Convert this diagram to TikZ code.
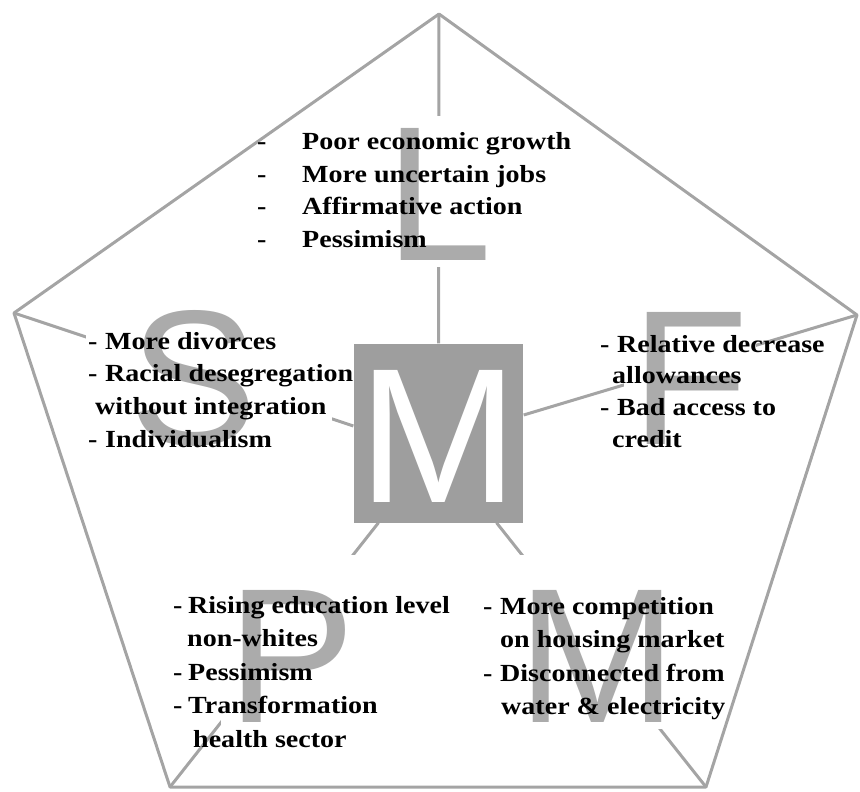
\documentclass[tikz,border=0pt]{standalone}
\usepackage{fontspec}
\newfontfamily\txtfont{Liberation Serif}[FakeStretch=1.14]
\newfontfamily\letfont{Liberation Sans}
\usetikzlibrary{calc}
\definecolor{linegray}{HTML}{A4A4A4}
\definecolor{lettergray}{HTML}{ABABAB}
\definecolor{boxgray}{HTML}{9E9E9E}
\pgfdeclarelayer{bg}
\pgfdeclarelayer{mid}
\pgfsetlayers{bg,mid,main}
\begin{document}
\begin{tikzpicture}[x=1pt,y=-1pt,
  edge/.style={draw=linegray,line width=3pt},
  bigletter/.style={font=\letfont\fontsize{192}{192}\selectfont,text=lettergray,fill=white,inner sep=7pt,text depth=0pt,text height=137pt,anchor=base},
  txt/.style={font=\txtfont\bfseries\fontsize{24.6}{#1}\selectfont,anchor=base west,inner sep=0pt,text=black},
]
\useasboundingbox (0,0) rectangle (860,792);
% pentagon
\coordinate (T) at (439,14);
\coordinate (Lv) at (14,313);
\coordinate (Rv) at (857,315);
\coordinate (BL) at (170,787);
\coordinate (BR) at (706,787);
\draw[edge,line join=round] (T) -- (Rv) -- (BR) -- (BL) -- (Lv) -- cycle;
% central box
\node[fill=boxgray,text=white,font=\letfont\fontsize{192}{192}\selectfont,text height=138pt,text depth=0pt,inner xsep=5pt,inner ysep=20.5pt,anchor=base] (box) at (438.5,502) {M};
% texts
\node[txt=33] (tL) at (257,149) {\begin{tabular}[t]{@{}l@{}}
\makebox[45pt][l]{-}Poor economic growth\\
\makebox[45pt][l]{-}More uncertain jobs\\
\makebox[45pt][l]{-}Affirmative action\\
\makebox[45pt][l]{-}Pessimism
\end{tabular}};
\node[txt=32.7] (tS) at (88,349) {\begin{tabular}[t]{@{}l@{}}
\makebox[17pt][l]{-}More divorces\\
\makebox[17pt][l]{-}Racial desegregation\\
\hspace*{7pt}without integration\\
\makebox[17pt][l]{-}Individualism
\end{tabular}};
\node[txt=31.7] (tF) at (600,352) {\begin{tabular}[t]{@{}l@{}}
\makebox[17pt][l]{-}Relative decrease\\
\hspace*{12pt}allowances\\
\makebox[17pt][l]{-}Bad access to\\
\hspace*{12pt}credit
\end{tabular}};
\node[txt=33.5] (tP) at (173,613) {\begin{tabular}[t]{@{}l@{}}
\makebox[15pt][l]{-}Rising education level\\
\hspace*{14pt}non-whites\\
\makebox[15pt][l]{-}Pessimism\\
\makebox[15pt][l]{-}Transformation\\
\hspace*{20pt}health sector
\end{tabular}};
\node[txt=33.5] (tM) at (483,614) {\begin{tabular}[t]{@{}l@{}}
\makebox[17pt][l]{-}More competition\\
\hspace*{17pt}on housing market\\
\makebox[17pt][l]{-}Disconnected from\\
\hspace*{18pt}water \& electricity
\end{tabular}};
% spokes
\begin{pgfonlayer}{bg}
\draw[edge] (T) -- (box.north);
\draw[edge] (Lv) -- ([yshift=7pt]box.west);
\draw[edge] (Rv) -- ([yshift=18pt]box.east);
\draw[edge] (BL) -- ([xshift=-60pt]box.south);
\draw[edge] (BR) -- ([xshift=58pt]box.south);
\end{pgfonlayer}
% big letters
\begin{pgfonlayer}{mid}
\fill[white] ([shift={(-2pt,-6pt)}]tS.north west) rectangle ([shift={(-21pt,-2pt)}]tS.south east);
\node[bigletter] (Lt) at (439,260) {L};
\node[bigletter] (St) at (194,444) {S};
\node[bigletter] (Ft) at (690,444) {F};
\node[bigletter,text height=160pt] (Pt) at (292,722) {P};
\node[bigletter,text height=160pt] (Mt) at (597,722) {M};
\end{pgfonlayer}
\end{tikzpicture}
\end{document}
